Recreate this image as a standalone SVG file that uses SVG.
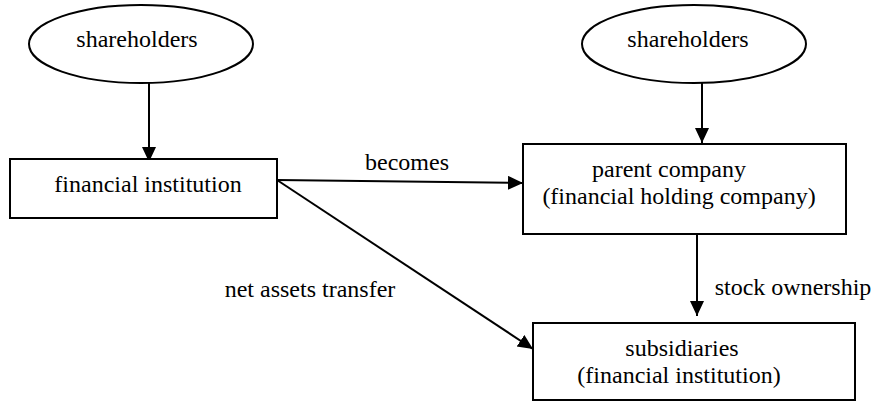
<svg xmlns="http://www.w3.org/2000/svg" width="874" height="401" viewBox="0 0 874 401">
  <style>
    .shape { fill: #ffffff; stroke: #000000; stroke-width: 2; }
    .label { font-family: 'Liberation Serif', serif; font-size: 24px; fill: #000000; text-anchor: middle; }
    .edge { fill: none; stroke: #000000; stroke-width: 2; marker-end: url(#arrow); }
  </style>
  <defs>
    <marker id="arrow" markerUnits="userSpaceOnUse" markerWidth="16" markerHeight="15" refX="15" refY="7" orient="auto">
      <path d="M0,0 L15,7 L0,14 z" fill="#000000"/>
    </marker>
  </defs>
  <rect width="874" height="401" fill="#ffffff"/>

  <g id="connectors">
    <line class="edge" x1="149" y1="83" x2="149" y2="162"/>
    <line class="edge" x1="702" y1="83" x2="702" y2="143"/>
    <line class="edge" x1="277" y1="180" x2="523" y2="183"/>
    <line class="edge" x1="277" y1="180" x2="533" y2="349"/>
    <line class="edge" x1="697" y1="234" x2="697" y2="316"/>
    <text class="label" x="407" y="170">becomes</text>
    <text class="label" x="310" y="297">net assets transfer</text>
    <text class="label" x="793" y="295">stock ownership</text>
  </g>

  <g id="shareholders-left">
    <ellipse class="shape" cx="141" cy="44" rx="112" ry="39"/>
    <text class="label" x="137" y="47">shareholders</text>
  </g>

  <g id="shareholders-right">
    <ellipse class="shape" cx="694" cy="44" rx="112" ry="39"/>
    <text class="label" x="688" y="47">shareholders</text>
  </g>

  <g id="financial-institution">
    <rect class="shape" x="10" y="159" width="267" height="59"/>
    <text class="label" x="148" y="192">financial institution</text>
  </g>

  <g id="parent-company">
    <rect class="shape" x="523" y="144" width="323" height="90"/>
    <text class="label" x="669" y="177">parent company</text>
    <text class="label" x="679" y="204">(financial holding company)</text>
  </g>

  <g id="subsidiaries">
    <rect class="shape" x="533" y="323" width="322" height="77"/>
    <text class="label" x="682" y="356">subsidiaries</text>
    <text class="label" x="679" y="383">(financial institution)</text>
  </g>
</svg>
